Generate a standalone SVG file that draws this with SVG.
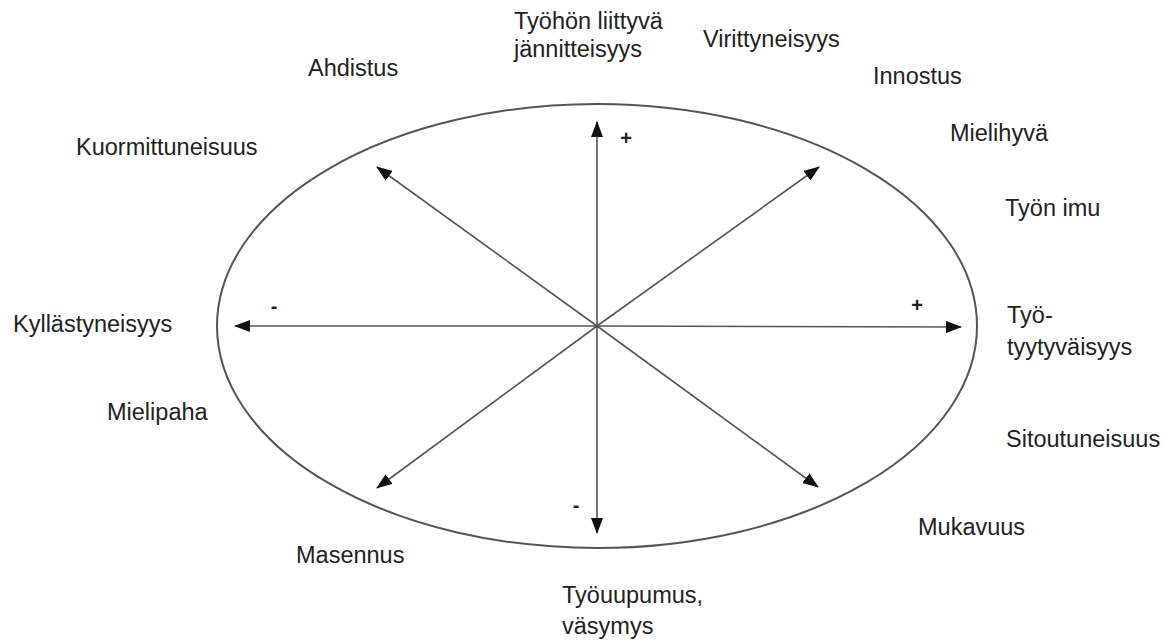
<svg xmlns="http://www.w3.org/2000/svg" width="1176" height="641" viewBox="0 0 1176 641">
<style>
.lbl{font-family:"Liberation Sans",Arial,sans-serif;font-size:23.5px;fill:#222}
.sgn{font-family:"Liberation Sans",Arial,sans-serif;font-size:20px;font-weight:bold;fill:#222;text-anchor:middle}
.ax{stroke:#555;stroke-width:1.6;fill:none}
</style>
<defs>
<marker id="ah" markerUnits="userSpaceOnUse" markerWidth="16" markerHeight="12" refX="15" refY="6" orient="auto">
<path d="M0,0 L16,6 L0,12 Z" fill="#111"/>
</marker>
</defs>
<rect width="1176" height="641" fill="#fff"/>
<g id="ellipse">
<ellipse cx="597" cy="326" rx="380" ry="222" fill="none" stroke="#555" stroke-width="2"/>
</g>
<g id="connectors">
<line class="ax" x1="597" y1="326" x2="597" y2="122" marker-end="url(#ah)"/>
<line class="ax" x1="597" y1="326" x2="597" y2="533" marker-end="url(#ah)"/>
<line class="ax" x1="597" y1="326" x2="235" y2="326" marker-end="url(#ah)"/>
<line class="ax" x1="597" y1="326" x2="961" y2="327" marker-end="url(#ah)"/>
<line class="ax" x1="597" y1="326" x2="377" y2="167" marker-end="url(#ah)"/>
<line class="ax" x1="597" y1="326" x2="819" y2="167" marker-end="url(#ah)"/>
<line class="ax" x1="597" y1="326" x2="377" y2="488" marker-end="url(#ah)"/>
<line class="ax" x1="597" y1="326" x2="818" y2="487" marker-end="url(#ah)"/>
</g>
<g id="signs">
<text class="sgn" x="626" y="145">+</text>
<text class="sgn" x="274" y="313">-</text>
<text class="sgn" x="917" y="312">+</text>
<text class="sgn" x="576" y="512">-</text>
</g>
<g id="n-tyohon"><text class="lbl" x="514" y="29">Työhön liittyvä</text><text class="lbl" x="514" y="57">jännitteisyys</text></g>
<g id="n-virittyneisyys"><text class="lbl" x="703" y="47">Virittyneisyys</text></g>
<g id="n-ahdistus"><text class="lbl" x="308" y="76">Ahdistus</text></g>
<g id="n-innostus"><text class="lbl" x="873" y="84">Innostus</text></g>
<g id="n-kuormittuneisuus"><text class="lbl" x="76" y="155">Kuormittuneisuus</text></g>
<g id="n-mielihyva"><text class="lbl" x="950" y="141">Mielihyvä</text></g>
<g id="n-tyonimu"><text class="lbl" x="1005" y="216">Työn imu</text></g>
<g id="n-kyllastyneisyys"><text class="lbl" x="13" y="332">Kyllästyneisyys</text></g>
<g id="n-tyotyytyvaisyys"><text class="lbl" x="1007" y="323">Työ-</text><text class="lbl" x="1007" y="355">tyytyväisyys</text></g>
<g id="n-mielipaha"><text class="lbl" x="107" y="420">Mielipaha</text></g>
<g id="n-sitoutuneisuus"><text class="lbl" x="1006" y="447">Sitoutuneisuus</text></g>
<g id="n-masennus"><text class="lbl" x="296" y="563">Masennus</text></g>
<g id="n-mukavuus"><text class="lbl" x="918" y="535">Mukavuus</text></g>
<g id="n-tyouupumus"><text class="lbl" x="562" y="603">Työuupumus,</text><text class="lbl" x="562" y="634">väsymys</text></g>
</svg>
